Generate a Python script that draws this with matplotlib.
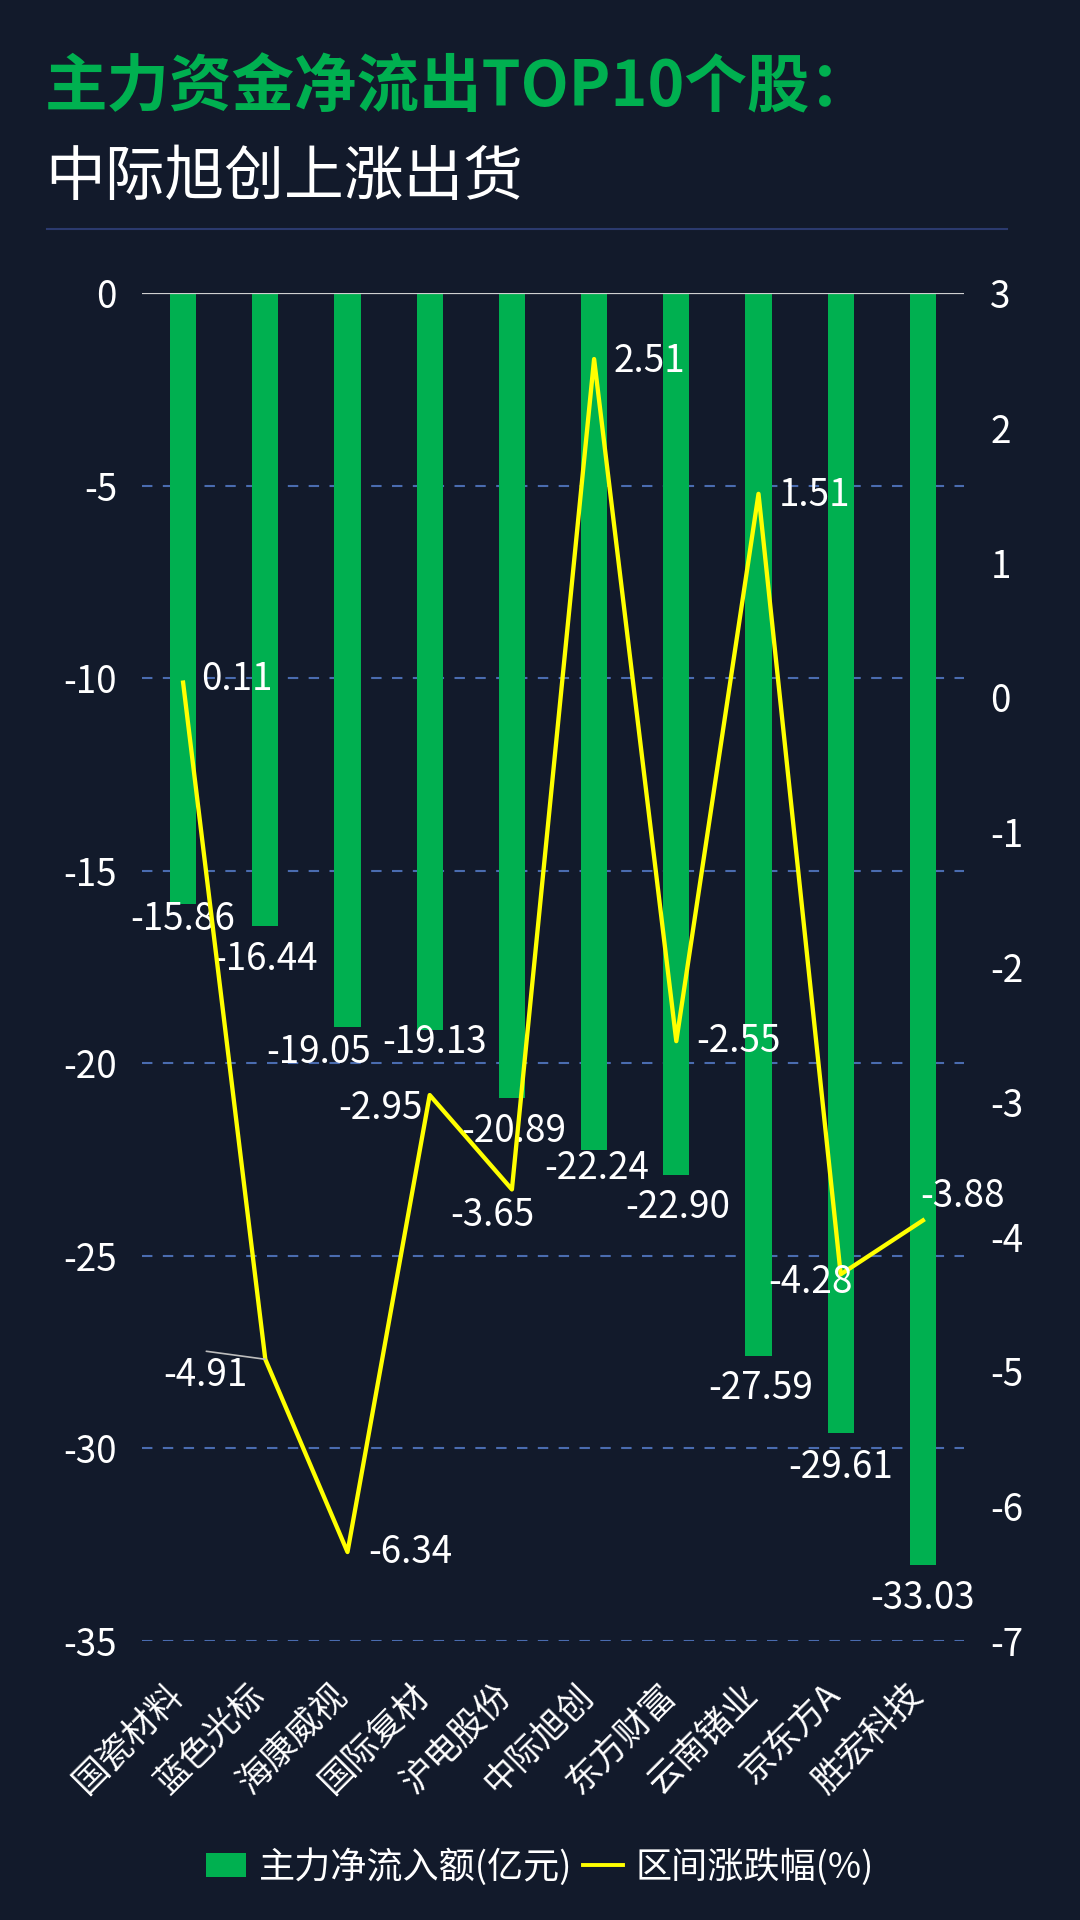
import matplotlib
matplotlib.use("Agg")
import matplotlib.pyplot as plt
import matplotlib.transforms as mtransforms
from matplotlib.lines import Line2D
from matplotlib.patches import Patch

plt.rcParams['font.family'] = ['Noto Sans CJK SC', 'DejaVu Sans']
plt.rcParams['axes.unicode_minus'] = False

# ---------------- data ----------------
categories = ["国瓷材料", "蓝色光标", "海康威视", "国际复材", "沪电股份",
              "中际旭创", "东方财富", "云南锗业", "京东方A", "胜宏科技"]
net_inflow = [-15.86, -16.44, -19.05, -19.13, -20.89,
              -22.24, -22.90, -27.59, -29.61, -33.03]
pct_change = [0.11, -4.91, -6.34, -2.95, -3.65, 2.51, -2.55, 1.51, -4.28, -3.88]
left_ticks = [0, -5, -10, -15, -20, -25, -30, -35]
right_ticks = [3, 2, 1, 0, -1, -2, -3, -4, -5, -6, -7]

title1 = "主力资金净流出TOP10个股："
title2 = "中际旭创上涨出货"
legend_bar = "主力净流入额(亿元)"
legend_line = "区间涨跌幅(%)"

# label offsets in pixels (dx, dy), style only
bar_label_off = [(0, -16), (0, -33), (-29, -26), (5, -13), (2, -34),
                 (3, -19), (1, -33), (2, -33), (0, -34), (0, -33)]
line_label_off = [(54, 3), (-60, -16), (63, 0), (-49, -13), (-20, -26),
                  (55, -2), (62, 0), (56, -2), (-30, -8), (40, 24)]
leader_index = 1
leader_off = (-59, 8)

# ---------------- style ----------------
BG = "#121a2b"
GREEN = "#00b050"
YELLOW = "#ffff00"
GRID = "#4a6cb0"
FS = 26.5

fig = plt.figure(figsize=(10.8, 19.2), dpi=100, facecolor=BG)
ax = fig.add_axes([142/1080, 1-1641/1920, 822/1080, 1348/1920])
ax.set_facecolor("none")
ax2 = ax.twinx()

x = list(range(len(categories)))
ax.bar(x, net_inflow, width=0.32, color=GREEN, zorder=2)
ax.set_xlim(-0.5, len(categories) - 0.5)
ax.set_ylim(-35, 0)
ax.set_yticks(left_ticks)
ax.set_yticklabels([str(t) for t in left_ticks])
for t in left_ticks:
    if t == 0:
        ax.axhline(t, color="#d0d0d0", lw=1.6, zorder=3)
    else:
        ax.axhline(t, color=GRID, lw=1.5, ls=(0, (5, 5)), zorder=1)

ax2.plot(x, pct_change, color=YELLOW, lw=3.1, zorder=4)
ax2.set_ylim(-7, 3)
ax2.set_yticks(right_ticks)
ax2.set_yticklabels([str(t) for t in right_ticks])

for a in (ax, ax2):
    for s in a.spines.values():
        s.set_visible(False)
    a.tick_params(axis='y', length=0, colors="white", labelsize=FS)
ax.tick_params(axis='y', pad=18)
ax2.tick_params(axis='y', pad=19)

ax.set_xticks(x)
ax.set_xticklabels(categories, rotation=45, ha='right', va='center',
                   rotation_mode='anchor', fontsize=25, color='white')
ax.tick_params(axis='x', length=0, pad=35, colors='white')
shift = mtransforms.ScaledTranslation(-6/100, 0, fig.dpi_scale_trans)
for lbl in ax.get_xticklabels():
    lbl.set_transform(lbl.get_transform() + shift)

# bar value labels
for i, v in enumerate(net_inflow):
    dx, dy = bar_label_off[i]
    ax.annotate(f"{v:.2f}", xy=(i, v), xytext=(dx, dy), textcoords='offset pixels',
                ha='center', va='center', color='white', fontsize=FS, zorder=5)

# line value labels
for i, v in enumerate(pct_change):
    dx, dy = line_label_off[i]
    ax2.annotate(f"{v:.2f}", xy=(i, v), xytext=(dx, dy), textcoords='offset pixels',
                 ha='center', va='center', color='white', fontsize=FS, zorder=6)

# leader line for the moved label
ax2.annotate("", xy=(leader_index, pct_change[leader_index]), xytext=leader_off,
             textcoords='offset pixels',
             arrowprops=dict(arrowstyle='-', color='#bdbdbd', lw=1.2,
                             shrinkA=0, shrinkB=0), zorder=5)

# titles
fig.text(45/1080, 1-88/1920, title1, color=GREEN, fontsize=45, fontweight='bold',
         ha='left', va='center')
fig.text(45/1080, 1-178/1920, title2, color='white', fontsize=43,
         ha='left', va='center')
fig.add_artist(Line2D([47/1080, 1007/1080], [1-229/1920, 1-229/1920],
                      color="#2b3a6e", lw=1.5, transform=fig.transFigure))

# legend
handles = [Patch(facecolor=GREEN, edgecolor='none', label=legend_bar),
           Line2D([0], [0], color=YELLOW, lw=2.8, label=legend_line)]
leg = fig.legend(handles=handles, loc='center', bbox_to_anchor=(0.5, 1-1867/1920),
                 ncol=2, frameon=False, fontsize=26, handlelength=1.1,
                 handleheight=0.65, handletextpad=0.35, columnspacing=0.3)
for t in leg.get_texts():
    t.set_color('white')

fig.savefig("out.png", dpi=100, facecolor=BG)
